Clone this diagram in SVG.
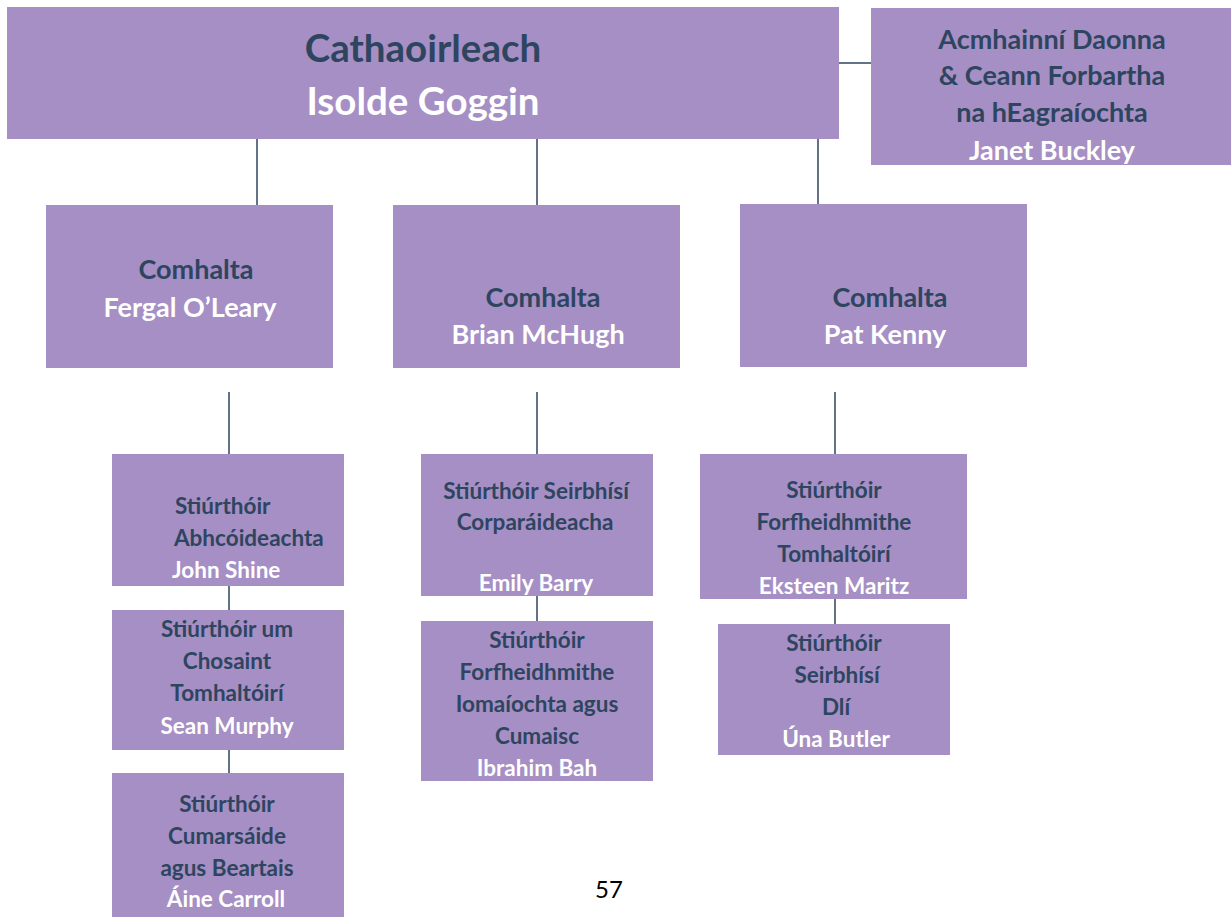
<svg xmlns="http://www.w3.org/2000/svg" width="1231" height="917" viewBox="0 0 1231 917">
<style>
.box{fill:#A68FC4}
.t{font-family:Lato,"Open Sans","Liberation Sans",sans-serif;font-weight:bold;text-anchor:middle}
.st{text-anchor:start}
.d{fill:#2E4560}
.w{fill:#FFFFFF}
.l{stroke:#2E4560;stroke-width:1.5;fill:none}
.s20{font-size:22.5px}
.s22{font-size:27px}
.s23{font-size:27px}
.s34{font-size:38.5px}
</style>
<rect width="1231" height="917" fill="#FFFFFF"/>
<g id="connectors">
<line class="l" x1="839" y1="63" x2="871" y2="63"/>
<line class="l" x1="257" y1="139" x2="257" y2="205"/>
<line class="l" x1="537" y1="139" x2="537" y2="205"/>
<line class="l" x1="818" y1="139" x2="818" y2="204"/>
<line class="l" x1="229" y1="392" x2="229" y2="454"/>
<line class="l" x1="537" y1="392" x2="537" y2="454"/>
<line class="l" x1="835" y1="392" x2="835" y2="454"/>
<line class="l" x1="229" y1="586" x2="229" y2="610"/>
<line class="l" x1="537" y1="596" x2="537" y2="621"/>
<line class="l" x1="835" y1="599" x2="835" y2="624"/>
<line class="l" x1="229" y1="750" x2="229" y2="773"/>
</g>
<g id="chair">
<rect class="box" x="7" y="7" width="832" height="132"/>
<text class="t d s34" x="423" y="62">Cathaoirleach</text>
<text class="t w s34" x="423" y="115">Isolde Goggin</text>
</g>
<g id="hr">
<rect class="box" x="871" y="8" width="360" height="157"/>
<text class="t d s22" x="1052" y="49">Acmhainní Daonna</text>
<text class="t d s22" x="1052" y="85">&amp; Ceann Forbartha</text>
<text class="t d s22" x="1052" y="122">na hEagraíochta</text>
<text class="t w s22" x="1052" y="160">Janet Buckley</text>
</g>
<g id="fergal">
<rect class="box" x="46" y="205" width="287" height="163"/>
<text class="t d s23" x="196" y="279">Comhalta</text>
<text class="t w s23" x="190" y="317">Fergal O’Leary</text>
</g>
<g id="brian">
<rect class="box" x="393" y="205" width="287" height="163"/>
<text class="t d s23" x="543" y="307">Comhalta</text>
<text class="t w s23" x="538" y="344">Brian McHugh</text>
</g>
<g id="pat">
<rect class="box" x="740" y="204" width="287" height="163"/>
<text class="t d s23" x="890" y="307">Comhalta</text>
<text class="t w s23" x="885" y="344">Pat Kenny</text>
</g>
<g id="john">
<rect class="box" x="112" y="454" width="232" height="132"/>
<text class="t st d s20" x="175" y="514">Stiúrthóir</text>
<text class="t st d s20" x="174" y="546">Abhcóideachta</text>
<text class="t st w s20" x="172" y="578">John Shine</text>
</g>
<g id="sean">
<rect class="box" x="112" y="610" width="232" height="140"/>
<text class="t d s20" x="227" y="637">Stiúrthóir um</text>
<text class="t d s20" x="227" y="669">Chosaint</text>
<text class="t d s20" x="227" y="701">Tomhaltóirí</text>
<text class="t w s20" x="227" y="734">Sean Murphy</text>
</g>
<g id="aine">
<rect class="box" x="112" y="773" width="232" height="144"/>
<text class="t d s20" x="227" y="812">Stiúrthóir</text>
<text class="t d s20" x="227" y="844">Cumarsáide</text>
<text class="t d s20" x="227" y="876">agus Beartais</text>
<text class="t w s20" x="226" y="907">Áine Carroll</text>
</g>
<g id="emily">
<rect class="box" x="421" y="454" width="232" height="142"/>
<text class="t d s20" x="536" y="499">Stiúrthóir Seirbhísí</text>
<text class="t d s20" x="535" y="530">Corparáideacha</text>
<text class="t w s20" x="536" y="591">Emily Barry</text>
</g>
<g id="ibrahim">
<rect class="box" x="421" y="621" width="232" height="160"/>
<text class="t d s20" x="537" y="648">Stiúrthóir</text>
<text class="t d s20" x="537" y="680">Forfheidhmithe</text>
<text class="t d s20" x="537" y="712">Iomaíochta agus</text>
<text class="t d s20" x="537" y="744">Cumaisc</text>
<text class="t w s20" x="537" y="776">Ibrahim Bah</text>
</g>
<g id="eksteen">
<rect class="box" x="700" y="454" width="267" height="145"/>
<text class="t d s20" x="834" y="498">Stiúrthóir</text>
<text class="t d s20" x="834" y="530">Forfheidhmithe</text>
<text class="t d s20" x="834" y="562">Tomhaltóirí</text>
<text class="t w s20" x="834" y="594">Eksteen Maritz</text>
</g>
<g id="una">
<rect class="box" x="718" y="624" width="232" height="131"/>
<text class="t d s20" x="834" y="651">Stiúrthóir</text>
<text class="t d s20" x="837" y="683">Seirbhísí</text>
<text class="t d s20" x="836" y="715">Dlí</text>
<text class="t w s20" x="836" y="747">Úna Butler</text>
</g>
<text x="609" y="898" font-family="Lato,'Liberation Sans',sans-serif" font-size="24" fill="#000000" text-anchor="middle">57</text>
</svg>
